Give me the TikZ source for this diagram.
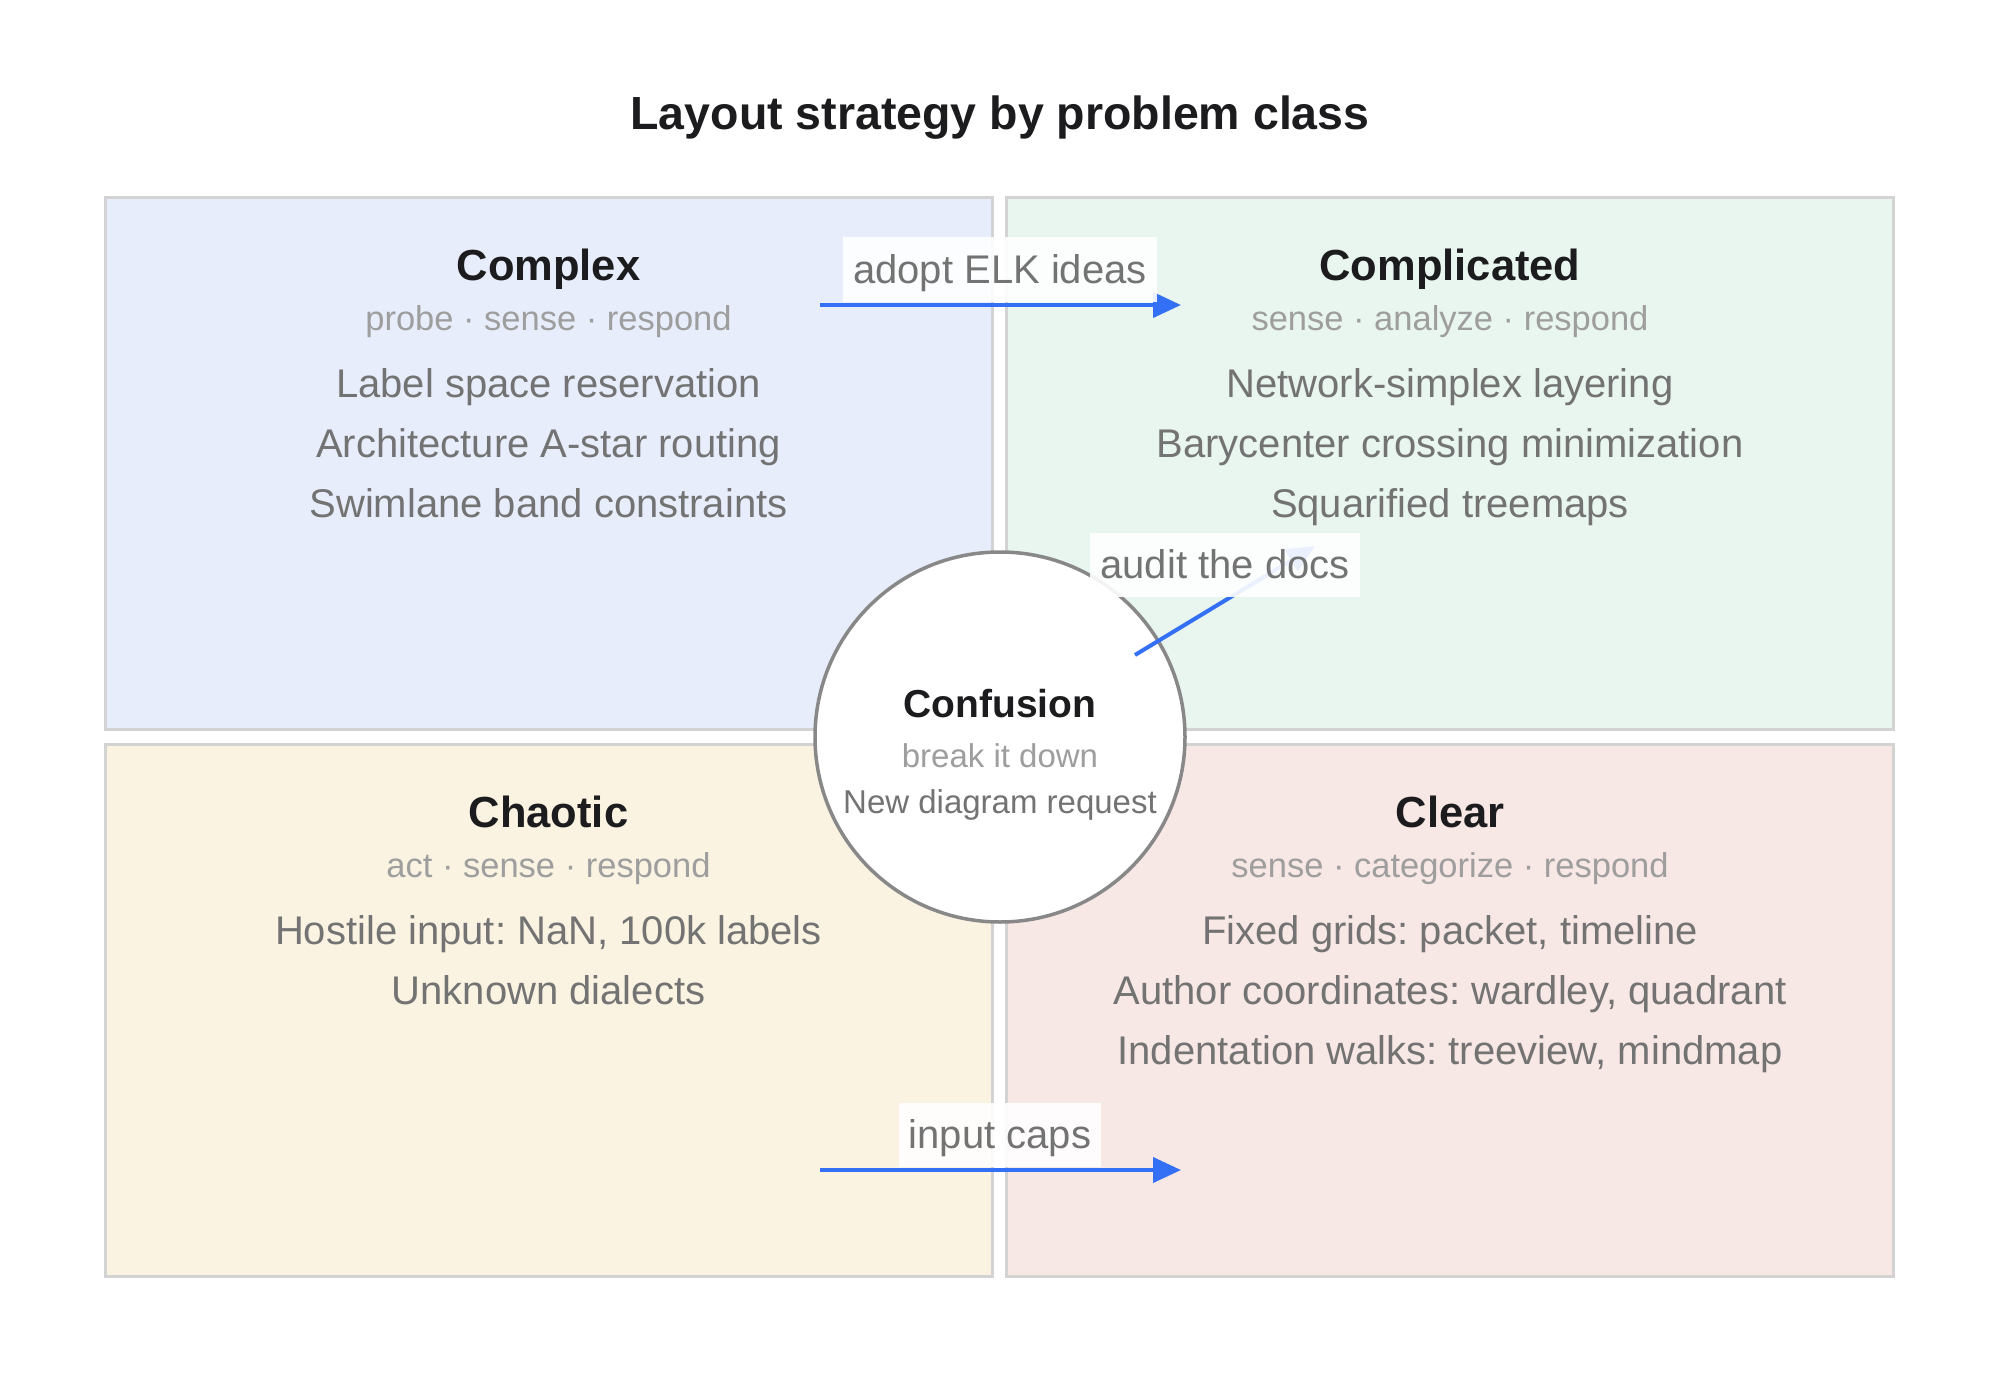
\documentclass[tikz,border=0pt]{standalone}
\usepackage{fontspec}
\setmainfont{Liberation Sans}
\usetikzlibrary{arrows.meta}
\definecolor{cxfill}{HTML}{E8EDFB}
\definecolor{cdfill}{HTML}{E9F6EF}
\definecolor{chfill}{HTML}{FAF3E2}
\definecolor{clfill}{HTML}{F7E7E5}
\definecolor{quadline}{HTML}{D3D3D3}
\definecolor{inkdark}{HTML}{1C1C1E}
\definecolor{inksub}{HTML}{9E9E9E}
\definecolor{inkitem}{HTML}{737373}
\definecolor{flowblue}{HTML}{3370F5}
\definecolor{ringgray}{HTML}{888888}
\frenchspacing
\begin{document}
\begin{tikzpicture}[x=1pt,y=-1pt,
  quad/.style={draw=quadline, line width=3pt, minimum width=887pt, minimum height=532pt, inner sep=0pt},
  maintitle/.style={anchor=base, font=\fontsize{46.5}{54}\selectfont\bfseries, text=inkdark, inner sep=0pt},
  qtitle/.style={anchor=base, font=\fontsize{43.5}{50}\selectfont\bfseries, text=inkdark, inner sep=0pt},
  qsub/.style={anchor=base, font=\fontsize{34.5}{40}\selectfont, text=inksub, inner sep=0pt},
  qitem/.style={anchor=base, font=\fontsize{40}{46}\selectfont, text=inkitem, inner sep=0pt},
  ring/.style={circle, draw=ringgray, line width=3.5pt, fill=white, minimum size=370pt, inner sep=0pt},
  ctitle/.style={anchor=base, font=\fontsize{39}{46}\selectfont\bfseries, text=inkdark, inner sep=0pt},
  csub/.style={anchor=base, font=\fontsize{33}{40}\selectfont, text=inksub, inner sep=0pt},
  citem/.style={anchor=base, font=\fontsize{33}{40}\selectfont, text=inkitem, inner sep=0pt},
  flow/.style={draw=flowblue, line width=4pt, -{Triangle[length=28pt,width=25pt]}},
  flowlabel/.style={fill=white, fill opacity=0.9, text opacity=1, text=inkitem,
    font=\fontsize{40}{46}\selectfont, inner xsep=10pt, inner ysep=0pt,
    minimum height=64pt, text height=35pt, text depth=8pt}
]
\useasboundingbox (0,0) rectangle (2000,1383);

% title
\node[maintitle] (title) at (1000,130) {Layout strategy by problem class};

% quadrants
\node[quad, fill=cxfill] (complex) at (548.5,463.5) {};
\node[quad, fill=cdfill] (complicated) at (1450,463.5) {};
\node[quad, fill=chfill] (chaotic) at (548.5,1010.5) {};
\node[quad, fill=clfill] (clear) at (1450,1010.5) {};

% Complex
\node[qtitle] (cxT) at (548.5,280) {Complex};
\node[qsub] (cxS) at (548.5,330) {probe · sense · respond};
\node[qitem] (cx1) at (548.5,397) {Label space reservation};
\node[qitem] (cx2) at (548.5,457) {Architecture A-star routing};
\node[qitem] (cx3) at (548.5,517) {Swimlane band constraints};

% Complicated
\node[qtitle] (cdT) at (1450,280) {Complicated};
\node[qsub] (cdS) at (1450,330) {sense · analyze · respond};
\node[qitem] (cd1) at (1450,397) {Network-simplex layering};
\node[qitem] (cd2) at (1450,457) {Barycenter crossing minimization};
\node[qitem] (cd3) at (1450,517) {Squarified treemaps};

% Chaotic
\node[qtitle] (chT) at (548.5,827) {Chaotic};
\node[qsub] (chS) at (548.5,877) {act · sense · respond};
\node[qitem] (ch1) at (548.5,944) {Hostile input: NaN, 100k labels};
\node[qitem] (ch2) at (548.5,1004) {Unknown dialects};

% Clear
\node[qtitle] (clT) at (1450,827) {Clear};
\node[qsub] (clS) at (1450,877) {sense · categorize · respond};
\node[qitem] (cl1) at (1450,944) {Fixed grids: packet, timeline};
\node[qitem] (cl2) at (1450,1004) {Author coordinates: wardley, quadrant};
\node[qitem] (cl3) at (1450,1064) {Indentation walks: treeview, mindmap};

% Confusion
\node[ring] (conf) at (1000,737) {};
\node[ctitle] (confT) at (1000,717) {Confusion};
\node[csub] (confS) at (1000,767) {break it down};
\node[citem] (confI) at (1000,813) {New diagram request};

% connectors
\coordinate (elkS) at (820,305);
\coordinate (elkE) at (1181,305);
\coordinate (capS) at (820,1170);
\coordinate (capE) at (1181,1170);
\coordinate (audS) at (1135,655);
\coordinate (audE) at (1315,546);
\draw[flow] (elkS) -- (elkE);
\draw[flow] (capS) -- (capE);
\draw[flow] (audS) -- (audE);

% labels
\node[flowlabel] (elkL) at (1000,269.5) {adopt ELK ideas};
\node[flowlabel] (capL) at (1000,1135) {input caps};
\node[flowlabel] (audL) at (1225,565) {audit the docs};
\end{tikzpicture}
\end{document}
